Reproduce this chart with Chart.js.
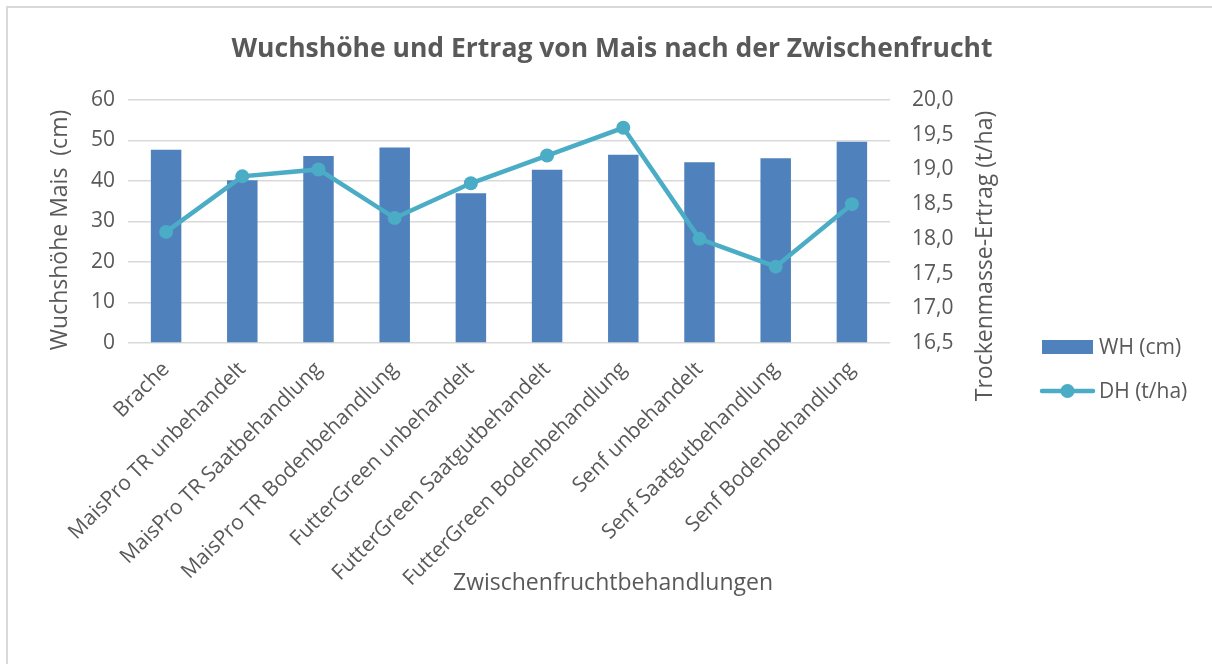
<!DOCTYPE html>
<html><head><meta charset="utf-8">
<script src="https://cdn.jsdelivr.net/npm/chart.js@4/dist/chart.umd.min.js"></script>
<style>
html,body{margin:0;padding:0;background:#fff;overflow:hidden;}
#wrap{position:relative;width:1212px;height:664px;overflow:hidden;}
#frame{position:absolute;left:6px;top:6px;width:1300px;height:800px;border:2px solid #d9d9d9;box-sizing:border-box;}
canvas{position:absolute;left:0;top:0;}
</style></head><body>
<div id="wrap"><div id="frame"></div><canvas id="c" width="1212" height="664"></canvas></div>
<script>
const categories = ["Brache","MaisPro TR unbehandelt","MaisPro TR Saatbehandlung","MaisPro TR Bodenbehandlung","FutterGreen unbehandelt","FutterGreen Saatgutbehandelt","FutterGreen Bodenbehandlung","Senf unbehandelt","Senf Saatgutbehandlung","Senf Bodenbehandlung"];
const whValues = [47.7, 40.2, 46.2, 48.3, 37.0, 42.8, 46.5, 44.6, 45.6, 49.7];
const dhValues = [18.1, 18.9, 19.0, 18.3, 18.8, 19.2, 19.6, 18.0, 17.6, 18.5];
const leftTickValues = [0, 10, 20, 30, 40, 50, 60];
const rightTickValues = [16.5, 17.0, 17.5, 18.0, 18.5, 19.0, 19.5, 20.0];
const seriesNames = ["WH (cm)", "DH (t/ha)"];
const chartTitle = "Wuchshöhe und Ertrag von Mais nach der Zwischenfrucht";
const leftAxisTitle = "Wuchshöhe Mais  (cm)";
const rightAxisTitle = "Trockenmasse-Ertrag (t/ha)";
const xAxisTitle = "Zwischenfruchtbehandlungen";

const TXT = '#595959';
const FONT = '"Open Sans", sans-serif';
const BAR = '#4F81BD';
const LINE = '#4BACC6';

const textPlugin = {
  id: 'texts',
  afterDraw(chart) {
    const ctx = chart.ctx;
    ctx.save();
    ctx.fillStyle = TXT;
    ctx.textAlign = 'center';
    ctx.textBaseline = 'middle';
    ctx.font = 'bold 26.5px ' + FONT;
    ctx.fillText(chartTitle, 612, 49);
    ctx.font = '23px ' + FONT;
    ctx.fillText(xAxisTitle, 613, 583);
    ctx.save(); ctx.translate(60, 230); ctx.rotate(-Math.PI/2); ctx.fillText(leftAxisTitle, 0, 0); ctx.restore();
    ctx.save(); ctx.translate(985, 256); ctx.rotate(-Math.PI/2); ctx.fillText(rightAxisTitle, 0, 0); ctx.restore();
    // legend
    ctx.textAlign = 'left';
    ctx.font = '21px ' + FONT;
    ctx.fillStyle = BAR;
    ctx.fillRect(1042, 340, 51, 14);
    ctx.strokeStyle = LINE; ctx.lineWidth = 4.5; ctx.lineCap = 'round';
    ctx.beginPath(); ctx.moveTo(1042, 391); ctx.lineTo(1093, 391); ctx.stroke();
    ctx.fillStyle = LINE; ctx.beginPath(); ctx.arc(1067.5, 391, 7, 0, Math.PI*2); ctx.fill();
    ctx.fillStyle = TXT;
    ctx.fillText(seriesNames[0], 1099, 348);
    ctx.fillText(seriesNames[1], 1099, 392);
    ctx.restore();
  }
};

new Chart(document.getElementById('c'), {
  data: {
    labels: categories,
    datasets: [
      { type: 'line', label: seriesNames[1], data: dhValues, yAxisID: 'y2', order: 1,
        borderColor: LINE, backgroundColor: LINE, borderWidth: 4.5, pointRadius: 7,
        pointBackgroundColor: LINE, pointBorderWidth: 0, tension: 0 },
      { type: 'bar', label: seriesNames[0], data: whValues, yAxisID: 'y', order: 2,
        backgroundColor: BAR, barPercentage: 0.4, categoryPercentage: 1.0 }
    ]
  },
  options: {
    responsive: false,
    animation: false,
    layout: { padding: { top: 100, right: 202, left: 0, bottom: 0 } },
    plugins: { legend: { display: false }, title: { display: false }, tooltip: { enabled: false } },
    scales: {
      x: {
        grid: { display: false }, border: { display: false },
        ticks: { color: TXT, font: { family: FONT, size: 21 }, minRotation: 45, maxRotation: 45, autoSkip: false, padding: 6 },
        afterFit(s) { s.height = 321; }
      },
      y: {
        position: 'left', min: 0, max: 60,
        afterBuildTicks(s) { s.ticks = leftTickValues.map(v => ({ value: v })); },
        grid: { color: '#d9d9d9', lineWidth: 1.5, drawTicks: false }, border: { display: false },
        ticks: { color: TXT, font: { family: FONT, size: 21 }, padding: 13 },
        afterFit(s) { s.width = 128; }
      },
      y2: {
        position: 'right', min: 16.5, max: 20,
        afterBuildTicks(s) { s.ticks = rightTickValues.map(v => ({ value: v })); },
        grid: { display: false, drawTicks: false }, border: { display: false },
        ticks: { color: TXT, font: { family: FONT, size: 21 }, padding: 22,
          callback: v => v.toFixed(1).replace('.', ',') },
        afterFit(s) { s.width = 120; }
      }
    }
  },
  plugins: [textPlugin]
});
</script>
</body></html>
